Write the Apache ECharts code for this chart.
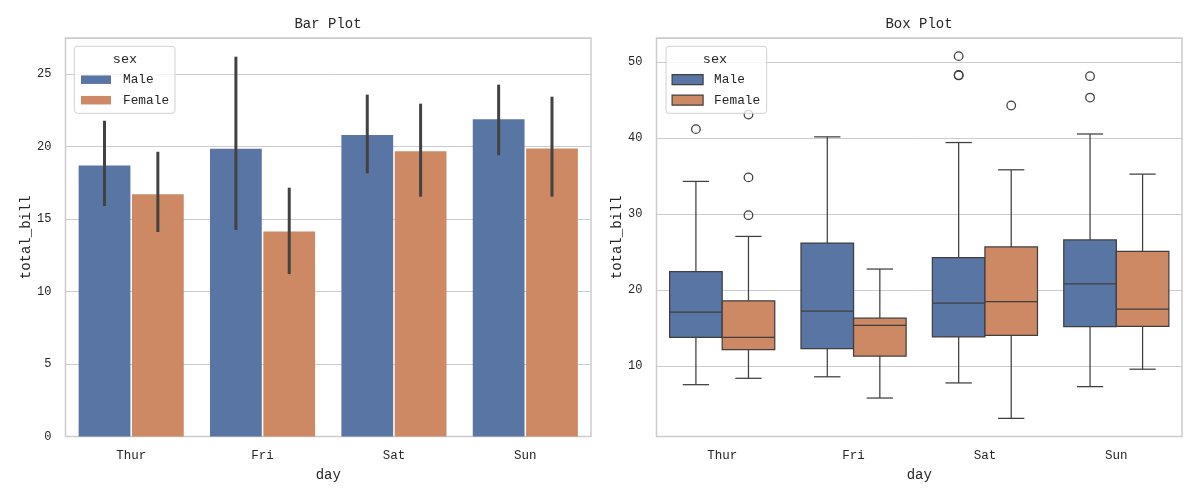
<!DOCTYPE html>
<html>
<head>
<meta charset="utf-8">
<title>Bar Plot / Box Plot</title>
<script src="https://cdn.jsdelivr.net/npm/echarts@6.0.0/dist/echarts.min.js"></script>
<style>
  html, body { margin: 0; background: #fff; }
  #main { width: 1200px; height: 500px; }
</style>
</head>
<body>
<div id="main"></div>
<script>
// categories
const days = ['Thur', 'Fri', 'Sat', 'Sun']

// bar plot: mean total_bill per day, and the 95% CI [low, high]
const barMale = [18.71, 19.86, 20.80, 21.89]
const barFemale = [16.72, 14.15, 19.68, 19.87]
const ciMale = [[15.91, 21.79], [14.25, 26.21], [18.16, 23.59], [19.41, 24.28]]
const ciFemale = [[14.11, 19.65], [11.21, 17.17], [16.55, 22.97], [16.55, 23.45]]

// box plot: [low whisker, q1, median, q3, high whisker]
const boxMale = [
  [7.51, 13.73, 17.07, 22.40, 34.30],
  [8.55, 12.27, 17.20, 26.18, 40.17],
  [7.74, 13.81, 18.27, 24.27, 39.42],
  [7.25, 15.15, 20.80, 26.58, 40.55],
]
const boxFemale = [
  [8.35, 12.13, 13.73, 18.57, 27.05],
  [5.75, 11.28, 15.33, 16.27, 22.75],
  [3.07, 14.00, 18.44, 25.66, 35.83],
  [9.55, 15.20, 17.47, 25.07, 35.26],
]
// fliers per day
const outMale = [[41.19], [], [50.81, 48.33, 48.27], [48.17, 45.35]]
const outFemale = [[43.11, 34.83, 29.85], [], [44.30], []]

const blue = '#5975a4'
const orange = '#cc8963'
const edge = '#3f3f3f'
const font = 'Liberation Mono'
const textColor = '#262626'

const chart = echarts.init(document.getElementById('main'), null, { renderer: 'canvas' })

// error bar, drawn at the centre of its dodged bar
function ciItem(offset) {
  return function (params, api) {
    const i = api.value(0)
    const band = api.size([1, 0])[0]
    const x = api.coord([i, 0])[0] + offset * band
    const y0 = api.coord([i, api.value(1)])[1]
    const y1 = api.coord([i, api.value(2)])[1]
    return {
      type: 'line',
      shape: { x1: x, y1: y0, x2: x, y2: y1 },
      style: { stroke: '#424242', lineWidth: 3 },
    }
  }
}

// one box with whiskers and caps
function boxItem(offset, color) {
  return function (params, api) {
    const i = api.value(0)
    const band = api.size([1, 0])[0]
    const w = band * 0.4
    const cx = api.coord([i, 0])[0] + offset * band
    const y = k => api.coord([i, api.value(k)])[1]
    const lo = y(1), q1 = y(2), med = y(3), q3 = y(4), hi = y(5)
    const line = { stroke: edge, lineWidth: 1.25 }
    return {
      type: 'group',
      children: [
        { type: 'line', shape: { x1: cx, y1: lo, x2: cx, y2: q1 }, style: line },
        { type: 'line', shape: { x1: cx, y1: q3, x2: cx, y2: hi }, style: line },
        { type: 'line', shape: { x1: cx - w / 4, y1: lo, x2: cx + w / 4, y2: lo }, style: line },
        { type: 'line', shape: { x1: cx - w / 4, y1: hi, x2: cx + w / 4, y2: hi }, style: line },
        { type: 'rect', shape: { x: cx - w / 2, y: q3, width: w, height: q1 - q3 }, style: { fill: color, stroke: edge, lineWidth: 1.25 } },
        { type: 'line', shape: { x1: cx - w / 2, y1: med, x2: cx + w / 2, y2: med }, style: line },
      ],
    }
  }
}

function flierItem(offset) {
  return function (params, api) {
    const i = api.value(0)
    const band = api.size([1, 0])[0]
    const p = api.coord([i, api.value(1)])
    return {
      type: 'circle',
      shape: { cx: p[0] + offset * band, cy: p[1], r: 4.3 },
      style: { fill: 'none', stroke: edge, lineWidth: 1.25 },
    }
  }
}

const flat = list => list.flatMap((vals, i) => vals.map(v => [i, v]))

function xAxis(gridIndex) {
  return {
    type: 'category',
    gridIndex,
    data: days,
    name: 'day',
    nameLocation: 'middle',
    nameGap: 32,
    nameTextStyle: { fontFamily: font, fontSize: 14, color: textColor },
    axisLine: { show: false },
    axisTick: { show: false },
    axisLabel: { margin: 13, fontFamily: font, fontSize: 12.5, color: textColor },
    splitLine: { show: false },
  }
}

function yAxis(gridIndex, extra) {
  return Object.assign({
    type: 'value',
    gridIndex,
    name: 'total_bill',
    nameLocation: 'middle',
    nameGap: 32,
    nameTextStyle: { fontFamily: font, fontSize: 14, color: textColor },
    axisLine: { show: false },
    axisTick: { show: false },
    axisLabel: { margin: 14, fontFamily: font, fontSize: 12, color: textColor, showMinLabel: true, showMaxLabel: false },
    splitLine: { lineStyle: { color: '#cccccc', width: 1 } },
  }, extra)
}

const legendText = { fontFamily: font, fontSize: 12.8, color: textColor, lineHeight: 14 }

const option = {
  animation: false,
  title: [
    { text: 'Bar Plot', left: 328, top: 17, textAlign: 'center', padding: 0, textStyle: { fontFamily: font, fontSize: 14, fontWeight: 'normal', color: textColor } },
    { text: 'Box Plot', left: 919, top: 17, textAlign: 'center', padding: 0, textStyle: { fontFamily: font, fontSize: 14, fontWeight: 'normal', color: textColor } },
  ],
  grid: [
    { left: 65.5, top: 38, width: 525.5, height: 398.5, show: true, borderColor: '#cccccc', borderWidth: 1.5 },
    { left: 656.5, top: 38, width: 525.5, height: 398.5, show: true, borderColor: '#cccccc', borderWidth: 1.5 },
  ],
  xAxis: [xAxis(0), xAxis(1)],
  yAxis: [
    yAxis(0, { min: 0, max: 27.5, interval: 5 }),
    yAxis(1, { min: 0.68, max: 53.2, splitNumber: 5, axisLabel: { margin: 14, fontFamily: font, fontSize: 12, color: textColor, showMinLabel: false, showMaxLabel: false } }),
  ],
  legend: [
    {
      orient: 'vertical', left: 81, top: 72.7, padding: 0, itemGap: 6.5,
      itemWidth: 30, itemHeight: 8.5, icon: 'rect', z: 11,
      textStyle: Object.assign({ padding: [0, 0, 0, 7] }, legendText),
      data: [{ name: 'Male' }, { name: 'Female' }],
    },
    {
      orient: 'vertical', left: 671.5, top: 72.7, padding: 0, itemGap: 6.5,
      itemWidth: 31, itemHeight: 10, icon: 'rect', z: 11,
      textStyle: Object.assign({ padding: [0, 0, 0, 6] }, legendText),
      data: [
        { name: 'Male', itemStyle: { borderColor: edge, borderWidth: 1.2 } },
        { name: 'Female', itemStyle: { borderColor: edge, borderWidth: 1.2 } },
      ],
    },
  ],
  graphic: [
    { type: 'rect', z: 10, shape: { x: 74.3, y: 46.3, width: 100.7, height: 67, r: 3 }, style: { fill: 'rgba(255,255,255,0.8)', stroke: '#d0d0d0', lineWidth: 1 } },
    { type: 'text', z: 11, x: 125, y: 59.3, style: { text: 'sex', fontFamily: font, fontSize: 13.5, fill: textColor, textAlign: 'center', textVerticalAlign: 'middle' } },
    { type: 'rect', z: 10, shape: { x: 666, y: 46.3, width: 100.7, height: 67, r: 3 }, style: { fill: 'rgba(255,255,255,0.8)', stroke: '#d0d0d0', lineWidth: 1 } },
    { type: 'text', z: 11, x: 715, y: 59.3, style: { text: 'sex', fontFamily: font, fontSize: 13.5, fill: textColor, textAlign: 'center', textVerticalAlign: 'middle' } },
  ],
  series: [
    { name: 'Male', type: 'bar', xAxisIndex: 0, yAxisIndex: 0, data: barMale, barCategoryGap: '20%', barGap: '3%', itemStyle: { color: blue } },
    { name: 'Female', type: 'bar', xAxisIndex: 0, yAxisIndex: 0, data: barFemale, barCategoryGap: '20%', barGap: '3%', itemStyle: { color: orange } },
    { name: 'Male CI', type: 'custom', xAxisIndex: 0, yAxisIndex: 0, renderItem: ciItem(-0.203), data: ciMale.map((d, i) => [i, d[0], d[1]]), encode: { x: 0, y: [1, 2] }, z: 3 },
    { name: 'Female CI', type: 'custom', xAxisIndex: 0, yAxisIndex: 0, renderItem: ciItem(0.203), data: ciFemale.map((d, i) => [i, d[0], d[1]]), encode: { x: 0, y: [1, 2] }, z: 3 },
    { name: 'Male box', type: 'custom', xAxisIndex: 1, yAxisIndex: 1, renderItem: boxItem(-0.2, blue), data: boxMale.map((d, i) => [i].concat(d)), encode: { x: 0, y: [1, 2, 3, 4, 5] }, itemStyle: { color: blue } },
    { name: 'Female box', type: 'custom', xAxisIndex: 1, yAxisIndex: 1, renderItem: boxItem(0.2, orange), data: boxFemale.map((d, i) => [i].concat(d)), encode: { x: 0, y: [1, 2, 3, 4, 5] }, itemStyle: { color: orange } },
    { name: 'Male fliers', type: 'custom', xAxisIndex: 1, yAxisIndex: 1, renderItem: flierItem(-0.2), data: flat(outMale), encode: { x: 0, y: 1 } },
    { name: 'Female fliers', type: 'custom', xAxisIndex: 1, yAxisIndex: 1, renderItem: flierItem(0.2), data: flat(outFemale), encode: { x: 0, y: 1 } },
  ],
}

chart.setOption(option)
</script>
</body>
</html>
